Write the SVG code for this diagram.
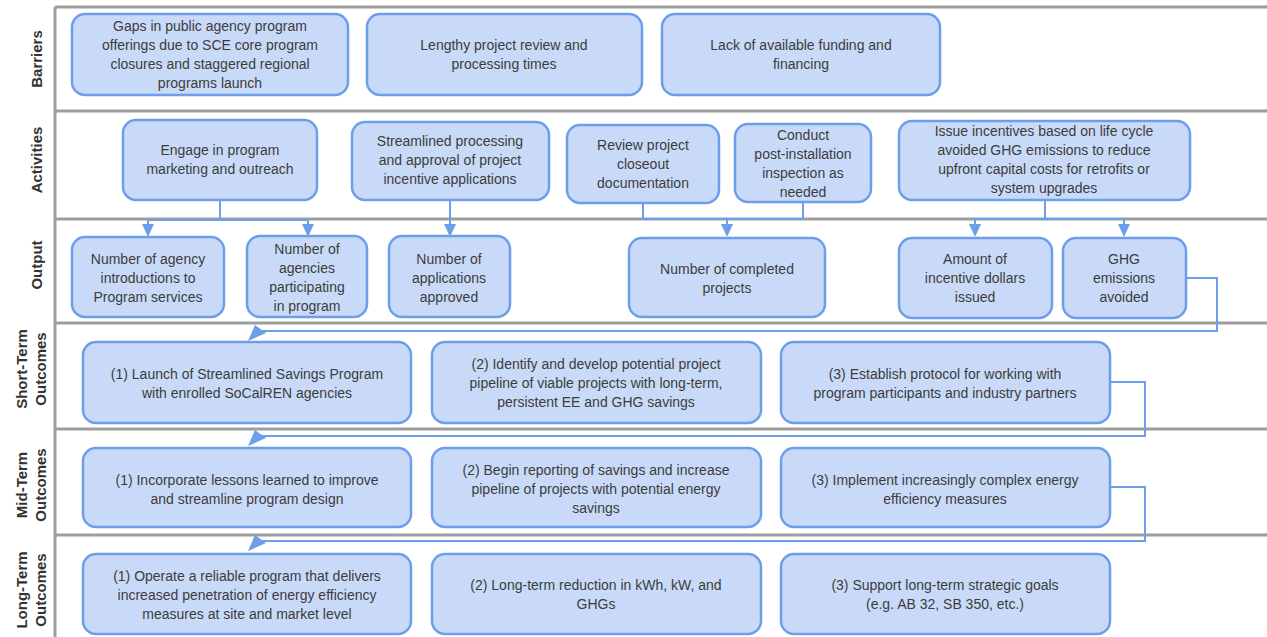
<svg xmlns="http://www.w3.org/2000/svg" width="1267" height="637" viewBox="0 0 1267 637">
<style>
.node rect{fill:#c9daf8;stroke:#6d9eeb;stroke-width:2.5}
.node text{font-family:"Liberation Sans",Arial,sans-serif;font-size:14px;fill:#3c3c3c;text-anchor:middle}
.lane{font-family:"Liberation Sans",Arial,sans-serif;font-size:15px;font-weight:bold;fill:#333;text-anchor:middle}
.sep{stroke:#9e9e9e;stroke-width:3;fill:none}
.con{stroke:#6d9eeb;stroke-width:2;fill:none}
.ah{fill:#6d9eeb}
</style>
<rect x="0" y="0" width="1267" height="637" fill="#fff"/>
<g id="lanes">
<path class="sep" d="M55,7H1267M55,111H1267M55,219H1267M55,323H1267M55,429H1267M55,535H1267M55,7V637"/>
<text class="lane" transform="translate(42,59) rotate(-90)">Barriers</text>
<text class="lane" transform="translate(42,160) rotate(-90)">Activities</text>
<text class="lane" transform="translate(42,265) rotate(-90)">Output</text>
<text class="lane" transform="translate(27,369) rotate(-90)">Short-Term</text>
<text class="lane" transform="translate(46,369) rotate(-90)">Outcomes</text>
<text class="lane" transform="translate(27,485) rotate(-90)">Mid-Term</text>
<text class="lane" transform="translate(46,485) rotate(-90)">Outcomes</text>
<text class="lane" transform="translate(27,590) rotate(-90)">Long-Term</text>
<text class="lane" transform="translate(46,590) rotate(-90)">Outcomes</text>
</g>
<g id="connectors">
<path class="con" d="M220,200V220M148,220H308M148,220V226M308,220V226"/>
<polygon class="ah" points="142,224 154,224 148,237"/>
<polygon class="ah" points="302,224 314,224 308,237"/>
<path class="con" d="M450,200V226"/>
<polygon class="ah" points="444,224 456,224 450,237"/>
<path class="con" d="M643,203V219H803V202M727,219V226"/>
<polygon class="ah" points="721,224 733,224 727,237"/>
<path class="con" d="M1045,200V219M975,219H1124M975,219V226M1124,219V226"/>
<polygon class="ah" points="969,224 981,224 975,237"/>
<polygon class="ah" points="1118,224 1130,224 1124,237"/>
<path class="con" d="M1186,278H1217V331H262"/>
<polygon class="ah" points="248,341 255,325 266,333"/>
<path class="con" d="M1110,382H1145V436H262"/>
<polygon class="ah" points="248,446 255,430 266,438"/>
<path class="con" d="M1110,487H1145V541H262"/>
<polygon class="ah" points="248,551 255,535 266,543"/>
</g>
<g id="b1" class="node"><rect x="72" y="14" width="276" height="81" rx="13"/><text><tspan x="210" y="31">Gaps in public agency program</tspan><tspan x="210" y="50">offerings due to SCE core program</tspan><tspan x="210" y="69">closures and staggered regional</tspan><tspan x="210" y="88">programs launch</tspan></text></g>
<g id="b2" class="node"><rect x="367" y="14" width="275" height="81" rx="13"/><text><tspan x="504" y="50">Lengthy project review and</tspan><tspan x="504" y="69">processing times</tspan></text></g>
<g id="b3" class="node"><rect x="662" y="14" width="278" height="81" rx="13"/><text><tspan x="801" y="50">Lack of available funding and</tspan><tspan x="801" y="69">financing</tspan></text></g>
<g id="a1" class="node"><rect x="123" y="120" width="194" height="80" rx="13"/><text><tspan x="220" y="155">Engage in program</tspan><tspan x="220" y="174">marketing and outreach</tspan></text></g>
<g id="a2" class="node"><rect x="352" y="122" width="197" height="78" rx="13"/><text><tspan x="450" y="146">Streamlined processing</tspan><tspan x="450" y="165">and approval of project</tspan><tspan x="450" y="184">incentive applications</tspan></text></g>
<g id="a3" class="node"><rect x="567" y="125" width="152" height="78" rx="13"/><text><tspan x="643" y="150">Review project</tspan><tspan x="643" y="169">closeout</tspan><tspan x="643" y="188">documentation</tspan></text></g>
<g id="a4" class="node"><rect x="735" y="124" width="136" height="78" rx="13"/><text><tspan x="803" y="140">Conduct</tspan><tspan x="803" y="159">post-installation</tspan><tspan x="803" y="178">inspection as</tspan><tspan x="803" y="197">needed</tspan></text></g>
<g id="a5" class="node"><rect x="899" y="121" width="291" height="79" rx="13"/><text><tspan x="1044" y="136">Issue incentives based on life cycle</tspan><tspan x="1044" y="155">avoided GHG emissions to reduce</tspan><tspan x="1044" y="174">upfront capital costs for retrofits or</tspan><tspan x="1044" y="193">system upgrades</tspan></text></g>
<g id="o1" class="node"><rect x="72" y="237" width="152" height="80" rx="13"/><text><tspan x="148" y="264">Number of agency</tspan><tspan x="148" y="283">introductions to</tspan><tspan x="148" y="302">Program services</tspan></text></g>
<g id="o2" class="node"><rect x="247" y="236" width="120" height="81" rx="13"/><text><tspan x="307" y="254">Number of</tspan><tspan x="307" y="273">agencies</tspan><tspan x="307" y="292">participating</tspan><tspan x="307" y="311">in program</tspan></text></g>
<g id="o3" class="node"><rect x="389" y="236" width="121" height="81" rx="13"/><text><tspan x="449" y="264">Number of</tspan><tspan x="449" y="283">applications</tspan><tspan x="449" y="302">approved</tspan></text></g>
<g id="o4" class="node"><rect x="629" y="238" width="196" height="79" rx="13"/><text><tspan x="727" y="274">Number of completed</tspan><tspan x="727" y="293">projects</tspan></text></g>
<g id="o5" class="node"><rect x="899" y="238" width="153" height="80" rx="13"/><text><tspan x="975" y="264">Amount of</tspan><tspan x="975" y="283">incentive dollars</tspan><tspan x="975" y="302">issued</tspan></text></g>
<g id="o6" class="node"><rect x="1063" y="238" width="123" height="80" rx="13"/><text><tspan x="1124" y="264">GHG</tspan><tspan x="1124" y="283">emissions</tspan><tspan x="1124" y="302">avoided</tspan></text></g>
<g id="s1" class="node"><rect x="83" y="342" width="328" height="81" rx="13"/><text><tspan x="247" y="379">(1) Launch of Streamlined Savings Program</tspan><tspan x="247" y="398">with enrolled SoCalREN agencies</tspan></text></g>
<g id="s2" class="node"><rect x="432" y="342" width="329" height="81" rx="13"/><text><tspan x="596" y="369">(2) Identify and develop potential project</tspan><tspan x="596" y="388">pipeline of viable projects with long-term,</tspan><tspan x="596" y="407">persistent EE and GHG savings</tspan></text></g>
<g id="s3" class="node"><rect x="781" y="342" width="329" height="81" rx="13"/><text><tspan x="945" y="379">(3) Establish protocol for working with</tspan><tspan x="945" y="398">program participants and industry partners</tspan></text></g>
<g id="m1" class="node"><rect x="83" y="448" width="328" height="79" rx="13"/><text><tspan x="247" y="485">(1) Incorporate lessons learned to improve</tspan><tspan x="247" y="504">and streamline program design</tspan></text></g>
<g id="m2" class="node"><rect x="432" y="448" width="329" height="79" rx="13"/><text><tspan x="596" y="475">(2) Begin reporting of savings and increase</tspan><tspan x="596" y="494">pipeline of projects with potential energy</tspan><tspan x="596" y="513">savings</tspan></text></g>
<g id="m3" class="node"><rect x="781" y="448" width="329" height="79" rx="13"/><text><tspan x="945" y="485">(3) Implement increasingly complex energy</tspan><tspan x="945" y="504">efficiency measures</tspan></text></g>
<g id="l1" class="node"><rect x="83" y="554" width="328" height="80" rx="13"/><text><tspan x="247" y="581">(1) Operate a reliable program that delivers</tspan><tspan x="247" y="600">increased penetration of energy efficiency</tspan><tspan x="247" y="619">measures at site and market level</tspan></text></g>
<g id="l2" class="node"><rect x="432" y="554" width="329" height="80" rx="13"/><text><tspan x="596" y="590">(2) Long-term reduction in kWh, kW, and</tspan><tspan x="596" y="609">GHGs</tspan></text></g>
<g id="l3" class="node"><rect x="781" y="554" width="329" height="80" rx="13"/><text><tspan x="945" y="590">(3) Support long-term strategic goals</tspan><tspan x="945" y="609">(e.g. AB 32, SB 350, etc.)</tspan></text></g>
</svg>
